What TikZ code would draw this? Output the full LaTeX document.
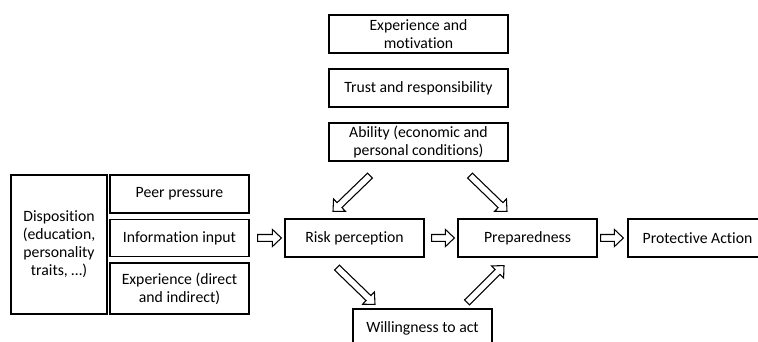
\documentclass[tikz,border=0pt]{standalone}
\usepackage{fontspec}
\setmainfont{Carlito}[Ligatures=NoCommon]
\usetikzlibrary{calc}

\tikzset{
	box/.style={draw, line width=0.9pt, align=center, inner sep=2pt, minimum width=104.25pt, minimum height=28.5pt, font=\fontsize{11.8}{13.5}\selectfont},
	blockarrow/.style={draw, line width=0.8pt, fill=white, line join=miter}
}

% hollow block arrow from #1 to #2 (tip at #2)
\newcommand{\hollowarrow}[2]{%
	\draw[blockarrow] let \p1=(#1), \p2=(#2), \n1={atan2(\y2-\y1,\x2-\x1)}, \n2={veclen(\x2-\x1,\y2-\y1)-6.75pt} in
		($(\p1)+(\n1+90:2.6pt)$) -- ++(\n1:\n2) -- ++(\n1+90:3.8pt) -- (\p2)
		-- ($(\p1)+(\n1:\n2)+(\n1-90:6.4pt)$) -- ++(\n1+90:3.8pt) -- ++(\n1+180:\n2) -- cycle;
}

\begin{document}
\begin{tikzpicture}[x=0.75pt, y=-0.75pt]
		
		\useasboundingbox (0,0) rectangle (758,342);
		\clip (0,0) rectangle (758,342);
		
		% left column
		\node (disp) at (59,244.5) [box, minimum width=72pt, minimum height=104.25pt] {Disposition\\(education,\\personality\\traits, …)};
		\node (peer) at (179.5,194) [box] {Peer pressure};
		\node (info) at (179.5,238) [box, minimum height=27.75pt] {Information input};
		\node (exp) at (179.5,288.5) [box, minimum height=38.25pt] {Experience (direct\\and indirect)};
		
		% factors on top
		\foreach \t [count=\i from 0] in {{Experience and\\motivation}, {Trust and responsibility}, {Ability (economic and\\personal conditions)}} {
			\node (t\i) at ($(418.5,34)+\i*(0,54)$) [box, minimum width=134.25pt] {\t};
		}
		
		% main chain
		\node (risk) at (354.5,238) [box] {Risk perception};
		\node (prep) at (527.5,238) [box] {Preparedness};
		\node (prot) at (697.5,238) [box] {Protective Action};
		\node (will) at (422.5,328) [box] {Willingness to act};
		
		\coordinate (a0) at ($(info.east)+(8,0)$);
		\coordinate (b0) at ($(risk.west)+(-3,0)$);
		\coordinate (a1) at ($(risk.east)+(7,0)$);
		\coordinate (b1) at ($(prep.west)+(-3,0)$);
		\coordinate (a2) at ($(prep.east)+(3,0)$);
		\coordinate (b2) at ($(prot.west)+(-4,0)$);
		\coordinate (a3) at ($(t2.south)+(-48.5,14)$);
		\coordinate (b3) at ($(risk.north)+(-21.5,-7)$);
		\coordinate (a4) at ($(t2.south)+(51.5,14)$);
		\coordinate (b4) at ($(prep.north)+(-20.5,-7)$);
		\coordinate (a5) at ($(risk.south)+(-17.5,10)$);
		\coordinate (b5) at ($(will.north)+(-47.5,-4)$);
		\coordinate (a6) at ($(will.north)+(44.5,-6)$);
		\coordinate (b6) at ($(prep.south)+(-23.5,8)$);
		
		\foreach \k in {0,...,6} {
			\hollowarrow{a\k}{b\k}
		}
		
	\end{tikzpicture}
\end{document}
